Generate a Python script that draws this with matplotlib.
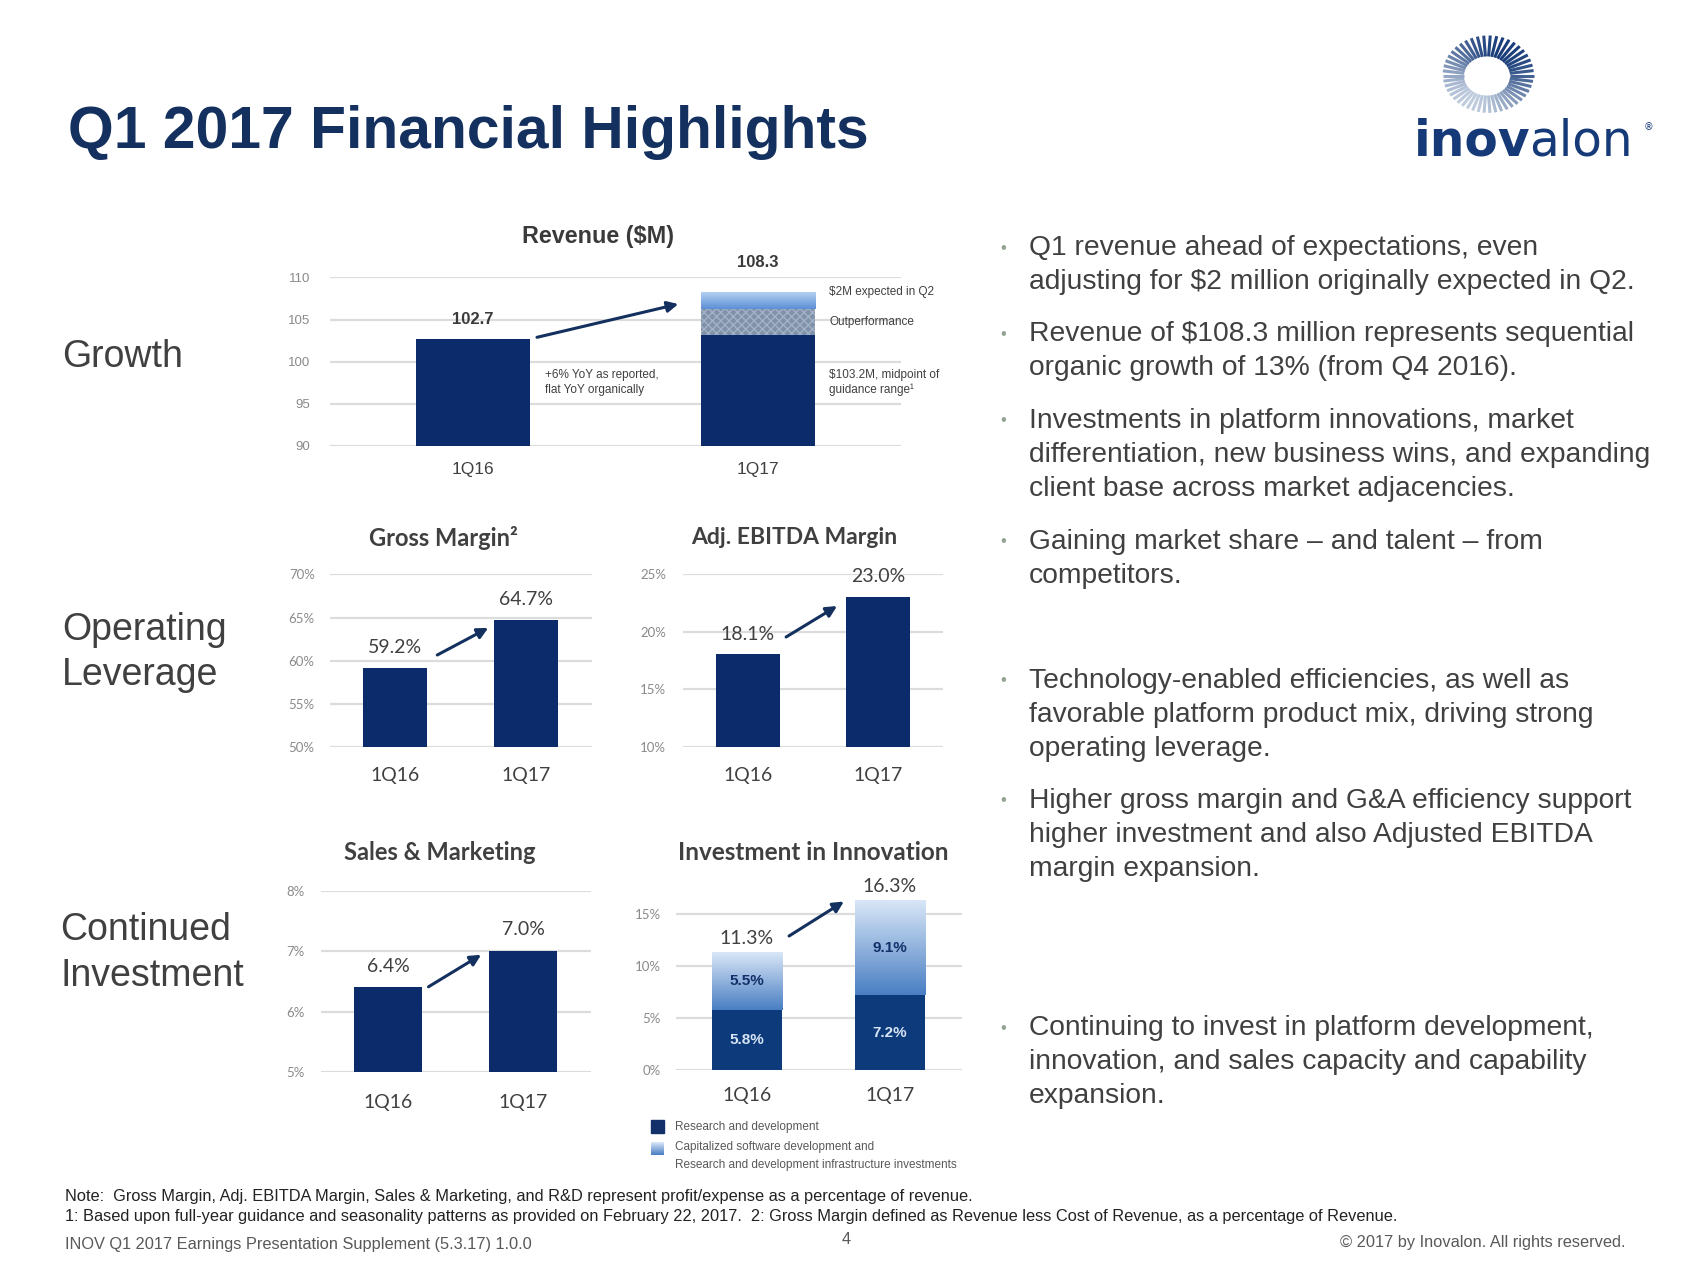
import numpy as np
import matplotlib
matplotlib.use('Agg')
import matplotlib.pyplot as plt
from matplotlib.colors import LinearSegmentedColormap
from matplotlib.patches import Rectangle

# ---- data ----
quarters = ['1Q16', '1Q17']
rev_base = [102.7, 103.2]      # 1Q17 base = guidance midpoint
rev_outperf = [0.0, 3.1]
rev_q2 = [0.0, 2.0]            # $2M expected in Q2
rev_total = [102.7, 108.3]
gross_margin = [59.2, 64.7]
ebitda_margin = [18.1, 23.0]
sales_mktg = [6.4, 7.0]
rnd = [5.8, 7.2]
cap_sw = [5.5, 9.1]
innov_total = [11.3, 16.3]

rev_ticks = [90, 95, 100, 105, 110]
gm_ticks = [50, 55, 60, 65, 70]
eb_ticks = [10, 15, 20, 25]
sm_ticks = [5, 6, 7, 8]
inv_ticks = [0, 5, 10, 15]

bullets = [
    ["Q1 revenue ahead of expectations, even",
     "adjusting for $2 million originally expected in Q2."],
    ["Revenue of $108.3 million represents sequential",
     "organic growth of 13% (from Q4 2016)."],
    ["Investments in platform innovations, market",
     "differentiation, new business wins, and expanding",
     "client base across market adjacencies."],
    ["Gaining market share \u2013 and talent \u2013 from",
     "competitors."],
    ["Technology-enabled efficiencies, as well as",
     "favorable platform product mix, driving strong",
     "operating leverage."],
    ["Higher gross margin and G&A efficiency support",
     "higher investment and also Adjusted EBITDA",
     "margin expansion."],
    ["Continuing to invest in platform development,",
     "innovation, and sales capacity and capability",
     "expansion."],
]
bullet_y = [248, 334, 421, 542, 681, 801, 1028]

W, H = 1693, 1270
NAVY = '#0c2b6b'
TITLE = '#14305e'
GRAY = '#404040'
ARIAL = 'Liberation Sans'
CAL = 'Lato'

fig = plt.figure(figsize=(W / 100, H / 100), dpi=100)
fig.patch.set_facecolor('white')


def px_axes(l, t, r, b):
    return fig.add_axes([l / W, 1 - b / H, (r - l) / W, (b - t) / H])


def ftext(x, y, s, **kw):
    return fig.text(x / W, 1 - y / H, s, **kw)


def style(ax, ticks, lims, fmt, fam, ysize, xsize, ypad, xpad):
    ax.set_xlim(-0.5, 1.5)
    ax.set_ylim(*lims)
    ax.set_yticks(ticks)
    ax.set_yticklabels([fmt.format(t) for t in ticks], fontsize=ysize,
                       color='#8a8a8a', family=fam)
    ax.set_xticks([0, 1])
    ax.set_xticklabels(quarters, fontsize=xsize, color=GRAY, family=fam)
    ax.tick_params(length=0)
    ax.tick_params(axis='y', pad=ypad)
    ax.tick_params(axis='x', pad=xpad)
    for s in ax.spines.values():
        s.set_visible(False)
    ax.grid(axis='y', color='#dcdcdc', lw=1.6)
    ax.set_axisbelow(True)
    ax.patch.set_alpha(0)


def grad_bar(ax, x, w, bottom, height, cmap, z=2):
    img = np.linspace(0, 1, 64).reshape(-1, 1)
    ax.imshow(img, extent=(x - w / 2, x + w / 2, bottom, bottom + height),
              aspect='auto', cmap=cmap, origin='upper', zorder=z)


def arrow(ax, p0, p1):
    ax.annotate('', xy=p1, xytext=p0,
                arrowprops=dict(arrowstyle='-|>', color=TITLE, lw=2.2,
                                mutation_scale=16, shrinkA=0, shrinkB=0))


light_rev = LinearSegmentedColormap.from_list('lr', ['#b3d0f2', '#5d8fd6'])
light_inv = LinearSegmentedColormap.from_list('li', ['#d8e6f7', '#4a7fc3'])
x = np.arange(2)

# ---- title / logo ----
ftext(68, 132, 'Q1 2017 Financial Highlights', fontsize=42.3, fontweight='bold',
      color=TITLE, family=ARIAL, va='center')

lg = px_axes(1430, 22, 1546, 124)
lg.set_xlim(1430, 1546)
lg.set_ylim(124, 22)
lg.axis('off')
cx, cy = 1487, 76
n = 46
for i in range(n):
    th = 2 * np.pi * i / n
    shade = 0.5 + 0.5 * np.cos(th - np.deg2rad(-60))
    col = plt.matplotlib.colors.to_hex(
        np.array([0.75, 0.80, 0.87]) * (1 - shade) + np.array([0.10, 0.24, 0.48]) * shade)
    r0, r1 = 23, 43 + 5 * shade
    lg.plot([cx + r0 * np.cos(th), cx + r1 * np.cos(th)],
            [cy + 0.85 * r0 * np.sin(th), cy + 0.85 * r1 * np.sin(th)],
            color=col, lw=2.2, solid_capstyle='butt')

ftext(1531, 142, 'inov', fontsize=35, fontweight='heavy', color='#163a78',
      family='DejaVu Sans', ha='right', va='center')
ftext(1529, 142, 'alon', fontsize=35, color='#163a78',
      family='DejaVu Sans', ha='left', va='center')
ftext(1644, 127, '\u00ae', fontsize=7, color='#163a78', va='center')

# ---- section labels ----
ftext(62, 357, 'Growth', fontsize=27, color=GRAY, family=ARIAL, va='center')
ftext(62, 630, 'Operating', fontsize=27, color=GRAY, family=ARIAL, va='center')
ftext(62, 675, 'Leverage', fontsize=27, color=GRAY, family=ARIAL, va='center')
ftext(60, 930, 'Continued', fontsize=27, color=GRAY, family=ARIAL, va='center')
ftext(60, 976, 'Investment', fontsize=27, color=GRAY, family=ARIAL, va='center')

# ---- revenue ----
ax = px_axes(330, 277.5, 901, 446)
ax.bar(x, rev_base, width=0.4, color=NAVY, zorder=2)
ax.bar(x, rev_outperf, bottom=rev_base, width=0.4, color='#8092aa',
       hatch='xxxx', edgecolor='#a3b2c6', lw=0, zorder=2)
grad_bar(ax, x[1], 0.4, rev_base[1] + rev_outperf[1], rev_q2[1], light_rev)
style(ax, rev_ticks, (90, 110), '{}', ARIAL, 9.5, 12.5, 14, 11.5)
for i, v in enumerate(rev_total):
    ax.text(i, v + (2.3 if i == 0 else 3.5), f'{v:.1f}', ha='center', va='center',
            fontsize=12, fontweight='bold', color='#3a3a3a', family=ARIAL)
arrow(ax, (0.225, 102.9), (0.72, 106.85))
ax.text(0.253, 97.5, '+6% YoY as reported,\nflat YoY organically', fontsize=8.5,
        color=GRAY, family=ARIAL, va='center', linespacing=1.3)
ax.text(1.248, 108.3, '$2M expected in Q2', fontsize=8.5, color=GRAY,
        family=ARIAL, va='center')
ax.text(1.248, 104.75, 'Outperformance', fontsize=8.5, color=GRAY,
        family=ARIAL, va='center')
ax.text(1.248, 97.5, '$103.2M, midpoint of\nguidance range\u00b9', fontsize=8.5,
        color=GRAY, family=ARIAL, va='center', linespacing=1.3)
ftext(598, 236, 'Revenue ($M)', fontsize=16.8, fontweight='bold', color='#3a3a3a',
      family=ARIAL, ha='center', va='center')

# ---- gross margin ----
ax = px_axes(330, 574.4, 591.6, 747)
ax.bar(x, gross_margin, width=0.49, color=NAVY, zorder=2)
style(ax, gm_ticks, (50, 70), '{}%', CAL, 9.5, 14, 11, 14.7)
for i, v in enumerate(gross_margin):
    ax.text(i, v + (2.3 if i == 0 else 2.4), f'{v:.1f}%', ha='center', va='center',
            fontsize=14, color=GRAY, family=CAL)
arrow(ax, (0.32, 60.66), (0.71, 63.8))
ftext(443, 538, 'Gross Margin\u00b2', fontsize=17, fontweight='bold', color=GRAY,
      family=CAL, ha='center', va='center')

# ---- adj. EBITDA margin ----
ax = px_axes(682.7, 574.4, 942.8, 747)
ax.bar(x, ebitda_margin, width=0.49, color=NAVY, zorder=2)
style(ax, eb_ticks, (10, 25), '{}%', CAL, 9.5, 14, 12, 14.7)
for i, v in enumerate(ebitda_margin):
    ax.text(i, v + (1.7 if i == 0 else 1.8), f'{v:.1f}%', ha='center', va='center',
            fontsize=14, color=GRAY, family=CAL)
arrow(ax, (0.295, 19.56), (0.687, 22.25))
ftext(794, 538, 'Adj. EBITDA Margin', fontsize=16.5, fontweight='bold', color=GRAY,
      family=CAL, ha='center', va='center')

# ---- sales & marketing ----
ax = px_axes(320.5, 890.7, 590.5, 1072)
ax.bar(x, sales_mktg, width=0.5, color=NAVY, zorder=2)
style(ax, sm_ticks, (5, 8), '{}%', CAL, 9.5, 14, 11.5, 15.5)
for i, v in enumerate(sales_mktg):
    ax.text(i, v + 0.35, f'{v:.1f}%', ha='center', va='center',
            fontsize=14, color=GRAY, family=CAL)
arrow(ax, (0.30, 6.41), (0.69, 6.94))
ftext(440, 853, 'Sales & Marketing', fontsize=17, fontweight='bold', color=GRAY,
      family=CAL, ha='center', va='center')

# ---- investment in innovation ----
# axis runs to 17% so the 16.3% bar is not cut; gridlines stop at 15%
ax = px_axes(675.5, 893.7, 961.5, 1070)
ax.bar(x, rnd, width=0.49, color='#0d3a7a', zorder=2)
for i in range(2):
    grad_bar(ax, x[i], 0.49, rnd[i], cap_sw[i], light_inv)
style(ax, inv_ticks, (0, 17), '{}%', CAL, 9.5, 14, 10.5, 12)
for i in range(2):
    ax.text(i, innov_total[i] + 1.4, f'{innov_total[i]:.1f}%', ha='center',
            va='center', fontsize=14, color=GRAY, family=CAL, clip_on=False)
    ax.text(i, rnd[i] / 2, f'{rnd[i]:.1f}%', ha='center', va='center',
            fontsize=11, fontweight='bold', color='#d6e4f6', family=ARIAL, zorder=4)
    ax.text(i, rnd[i] + cap_sw[i] / 2, f'{cap_sw[i]:.1f}%', ha='center',
            va='center', fontsize=11, fontweight='bold', color='#13306a',
            family=ARIAL, zorder=4)
arrow(ax, (0.294, 12.92), (0.678, 16.25))
ftext(813, 853, 'Investment in Innovation', fontsize=17.5, fontweight='bold',
      color=GRAY, family=CAL, ha='center', va='center')

# legend
fig.patches.append(Rectangle(((651) / W, 1 - 1133 / H), 13 / W, 13 / H,
                             transform=fig.transFigure, color='#13306a'))
lk = px_axes(651, 1142, 664, 1155)
lk.imshow(np.linspace(0, 1, 16).reshape(-1, 1), cmap=light_inv, aspect='auto')
lk.axis('off')
ftext(675, 1127, 'Research and development', fontsize=8.5, color='#595959',
      family=ARIAL, va='center')
ftext(675, 1147, 'Capitalized software development and', fontsize=8.5,
      color='#595959', family=ARIAL, va='center')
ftext(675, 1165, 'Research and development infrastructure investments',
      fontsize=8.5, color='#595959', family=ARIAL, va='center')

# ---- bullets ----
for y0, lines in zip(bullet_y, bullets):
    ftext(1003, y0, '\u2022', fontsize=12, color='#94a394', family=ARIAL,
          ha='center', va='center')
    for j, line in enumerate(lines):
        ftext(1029, y0 + 34 * j, line, fontsize=20.3, color=GRAY, family=ARIAL,
              va='center')

# ---- footer ----
fn = 11.8
ftext(65, 1196, 'Note:  Gross Margin, Adj. EBITDA Margin, Sales & Marketing, and R&D '
      'represent profit/expense as a percentage of revenue.', fontsize=fn,
      color='#222222', family=ARIAL, va='center')
ftext(65, 1216, '1: Based upon full-year guidance and seasonality patterns as provided '
      'on February 22, 2017.  2: Gross Margin defined as Revenue less Cost of Revenue, '
      'as a percentage of Revenue.', fontsize=fn, color='#222222', family=ARIAL,
      va='center')
ftext(65, 1244, 'INOV Q1 2017 Earnings Presentation Supplement (5.3.17) 1.0.0',
      fontsize=fn, color='#595959', family=ARIAL, va='center')
ftext(846, 1240, '4', fontsize=fn, color='#595959', family=ARIAL,
      ha='center', va='center')
ftext(1625, 1243, '\u00a9 2017 by Inovalon. All rights reserved.', fontsize=fn,
      color='#595959', family=ARIAL, ha='right', va='center')

fig.savefig('out.png', dpi=100)
